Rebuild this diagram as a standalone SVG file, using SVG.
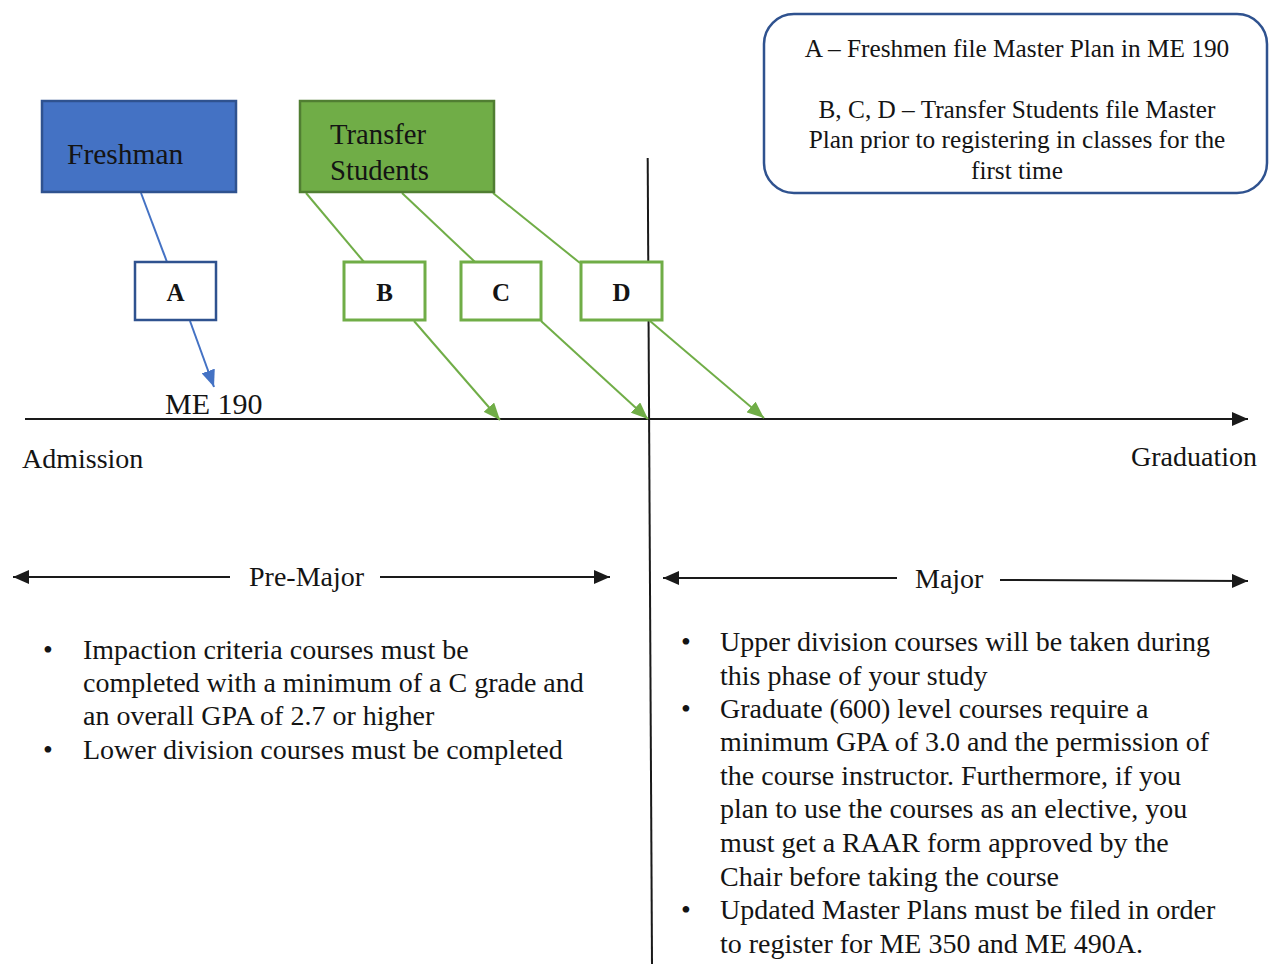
<svg xmlns="http://www.w3.org/2000/svg" width="1270" height="964" viewBox="0 0 1270 964">
<style>
text{font-family:"Liberation Serif","Times New Roman",serif;fill:#141414}
.t28{font-size:28px}
.leg{font-size:25.3px;text-anchor:middle}
.lbl{font-size:25px;font-weight:bold;text-anchor:middle}
.blk{stroke:#1a1a1a;stroke-width:2;fill:none}
.gl{stroke:#70AD47;stroke-width:2;fill:none}
.bl{stroke:#4472C4;stroke-width:2;fill:none}
</style>
<defs>
<marker id="ab" markerUnits="userSpaceOnUse" markerWidth="18" markerHeight="14" refX="16" refY="7" orient="auto"><path d="M0,0 L16,7 L0,14 Z" fill="#1a1a1a"/></marker>
<marker id="ag" markerUnits="userSpaceOnUse" markerWidth="18" markerHeight="14" refX="17" refY="7" orient="auto"><path d="M0,0 L17,7 L0,14 Z" fill="#70AD47"/></marker>
<marker id="au" markerUnits="userSpaceOnUse" markerWidth="18" markerHeight="14" refX="17" refY="7" orient="auto"><path d="M0,0 L17,7 L0,14 Z" fill="#4472C4"/></marker>
</defs>
<rect width="1270" height="964" fill="#fff"/>

<g id="connectors">
<line class="blk" x1="25" y1="419" x2="1248" y2="419" marker-end="url(#ab)"/>
<line x1="647.7" y1="158" x2="652" y2="964" stroke="#1a1a1a" stroke-width="2"/>
<line class="blk" x1="230" y1="577" x2="13" y2="577" marker-end="url(#ab)"/>
<line class="blk" x1="380" y1="577" x2="610" y2="577" marker-end="url(#ab)"/>
<line class="blk" x1="897" y1="578" x2="663" y2="578" marker-end="url(#ab)"/>
<line class="blk" x1="1000" y1="580" x2="1248" y2="581" marker-end="url(#ab)"/>
<line class="bl" x1="141" y1="193" x2="167" y2="262"/>
<line class="bl" x1="190" y1="321" x2="214" y2="387" marker-end="url(#au)"/>
<line class="gl" x1="306" y1="193" x2="364" y2="262"/>
<line class="gl" x1="402" y1="193" x2="475" y2="262"/>
<line class="gl" x1="493" y1="193" x2="580" y2="263"/>
<line class="gl" x1="414" y1="321" x2="500" y2="420" marker-end="url(#ag)"/>
<line class="gl" x1="541" y1="321" x2="648" y2="419" marker-end="url(#ag)"/>
<line class="gl" x1="650" y1="321" x2="764" y2="418" marker-end="url(#ag)"/>
</g>

<g id="freshman">
<rect x="42" y="101" width="194" height="91" fill="#4472C4" stroke="#2F528F" stroke-width="2.5"/>
<text x="67" y="164" style="font-size:29.5px">Freshman</text>
</g>
<g id="transfer">
<rect x="300" y="101" width="194" height="91" fill="#70AD47" stroke="#507E32" stroke-width="2.5"/>
<text x="330" y="144" class="t28" style="font-size:28.7px">Transfer</text>
<text x="330" y="180" class="t28" style="font-size:28.7px">Students</text>
</g>
<g id="nodeA">
<rect x="135" y="262" width="81" height="58" fill="#fff" stroke="#2F528F" stroke-width="2.5"/>
<text x="175.5" y="301" class="lbl">A</text>
</g>
<g id="nodeB">
<rect x="344" y="262" width="81" height="58" fill="#fff" stroke="#70AD47" stroke-width="3"/>
<text x="384.5" y="301" class="lbl">B</text>
</g>
<g id="nodeC">
<rect x="461" y="262" width="80" height="58" fill="#fff" stroke="#70AD47" stroke-width="3"/>
<text x="501" y="301" class="lbl">C</text>
</g>
<g id="nodeD">
<rect x="581" y="262" width="81" height="58" fill="#fff" stroke="#70AD47" stroke-width="3"/>
<text x="621.5" y="301" class="lbl">D</text>
</g>

<g id="legend">
<rect x="764" y="14" width="503" height="179" rx="30" fill="#fff" stroke="#2F528F" stroke-width="2.5"/>
<text x="1017" y="57" class="leg">A – Freshmen file Master Plan in ME 190</text>
<text x="1017" y="118" class="leg">B, C, D – Transfer Students file Master</text>
<text x="1017" y="148" class="leg">Plan prior to registering in classes for the</text>
<text x="1017" y="179" class="leg">first time</text>
</g>

<g id="labels">
<text x="165" y="414" class="t28" style="font-size:30px">ME 190</text>
<text x="22" y="468" class="t28">Admission</text>
<text x="1131" y="466" class="t28">Graduation</text>
<text x="249" y="586" class="t28">Pre-Major</text>
<text x="915" y="588" class="t28">Major</text>
</g>

<g id="premajor-notes" class="t28">
<text x="43" y="659">•</text>
<text x="83" y="659">Impaction criteria courses must be</text>
<text x="83" y="692">completed with a minimum of a C grade and</text>
<text x="83" y="725">an overall GPA of 2.7 or higher</text>
<text x="43" y="759">•</text>
<text x="83" y="759">Lower division courses must be completed</text>
</g>

<g id="major-notes" class="t28">
<text x="681" y="651">•</text>
<text x="720" y="651">Upper division courses will be taken during</text>
<text x="720" y="685">this phase of your study</text>
<text x="681" y="718">•</text>
<text x="720" y="718">Graduate (600) level courses require a</text>
<text x="720" y="751">minimum GPA of 3.0 and the permission of</text>
<text x="720" y="785">the course instructor. Furthermore, if you</text>
<text x="720" y="818">plan to use the courses as an elective, you</text>
<text x="720" y="852">must get a RAAR form approved by the</text>
<text x="720" y="886">Chair before taking the course</text>
<text x="681" y="919">•</text>
<text x="720" y="919">Updated Master Plans must be filed in order</text>
<text x="720" y="953">to register for ME 350 and ME 490A.</text>
</g>
</svg>
